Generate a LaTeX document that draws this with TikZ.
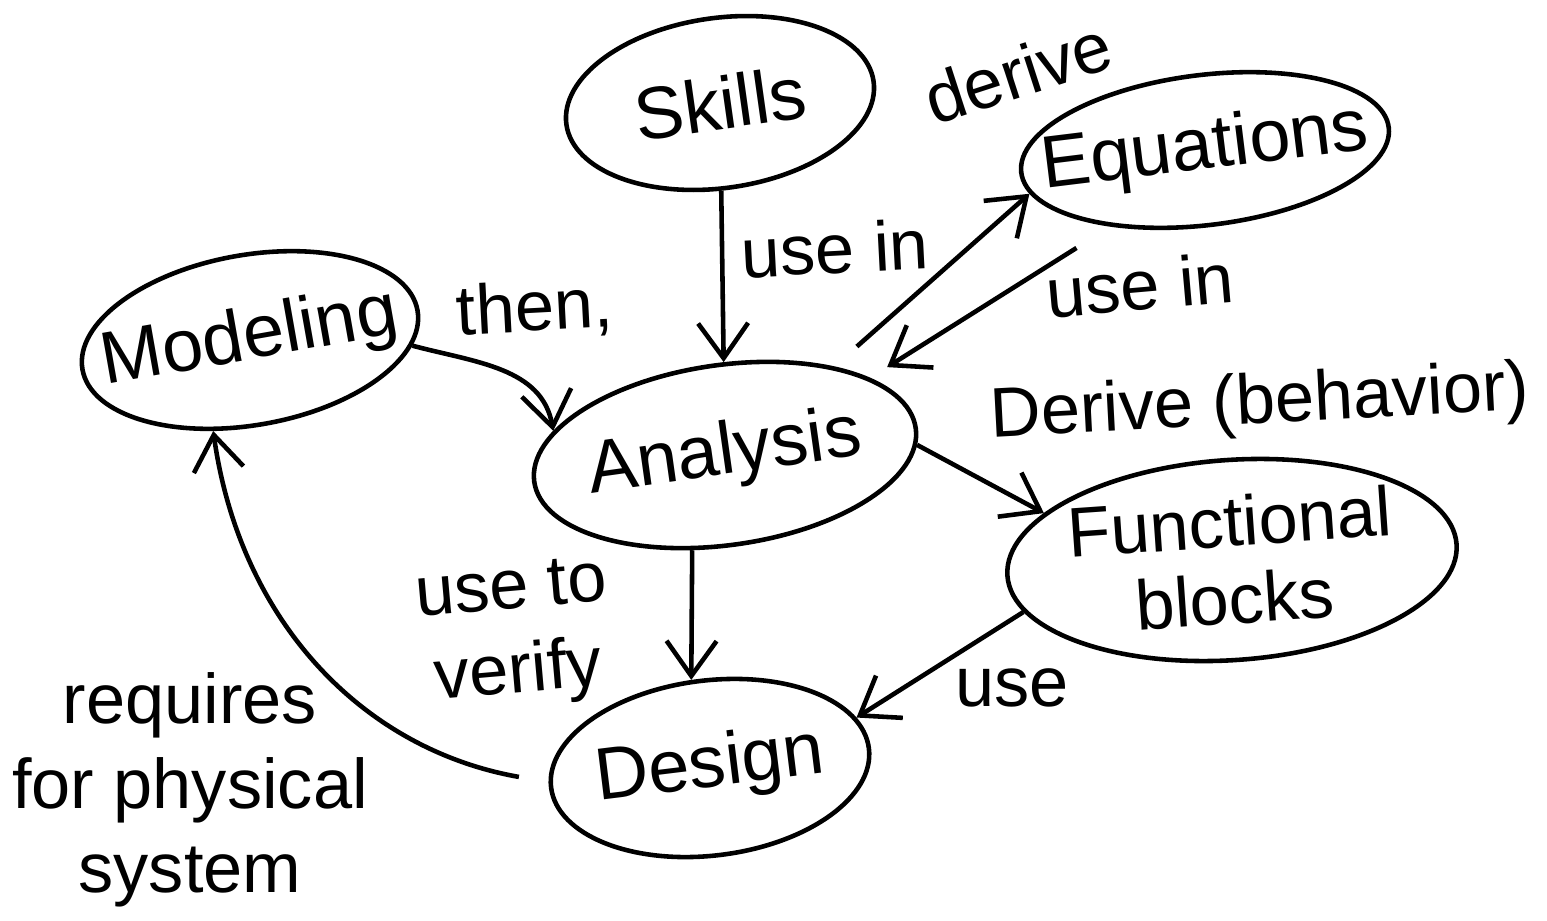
\documentclass[tikz,border=0pt]{standalone}
\usepackage{fontspec}
\setmainfont{Liberation Sans}
\usetikzlibrary{shapes.geometric,arrows.meta}
\begin{document}
\begin{tikzpicture}[x=0.01cm,y=0.01cm,
  bub/.style={draw,ellipse,line width=1.3pt,inner xsep=-5mm,inner ysep=-3mm,font=\fontsize{21}{25}\selectfont},
  lab/.style={font=\fontsize{20}{24}\selectfont,inner sep=1pt},
  arr/.style={line width=1.3pt,-{Straight Barb[length=3.5mm,width=5mm]}}]
\useasboundingbox[fill=white] (0,0) rectangle (1547,-921);
% nodes
\node[bub,minimum width=3.1cm,minimum height=1.7cm,rotate=8] (skills) at (720,-103) {Skills};
\node[bub,minimum width=3.7cm,minimum height=1.5cm,rotate=7] (eq) at (1205,-150) {Equations};
\node[bub,minimum width=3.4cm,minimum height=1.7cm,rotate=10] (model) at (250,-340) {Modeling};
\node[bub,minimum width=3.85cm,minimum height=1.8cm,rotate=8] (anal) at (725,-455) {Analysis};
\node[bub,minimum width=4.5cm,minimum height=2.0cm,rotate=4,align=center,font=\fontsize{20}{22}\selectfont] (func) at (1232,-560) {Functional\\blocks};
\node[bub,minimum width=3.2cm,minimum height=1.75cm,rotate=7] (design) at (710,-768) {Design};
% connectors
\draw[arr] (skills) -- (anal);
\draw[arr,shorten <=3mm] (anal.31) -- (eq.187);
\draw[arr,shorten <=4mm,shorten >=2mm] (eq.212) -- (anal.20);
\draw[arr] (model.-12) to[out=-15,in=100] (anal.164.5);
\draw[arr] (anal.-5) -- (func.162);
\draw[arr] (anal.243) -- (design.95);
\draw[arr] (func.190) -- (design.12);
\draw[arr,shorten <=3mm] (design.178) to[out=170,in=-82] (model.238);
% labels
\node[lab,rotate=3] (l1) at (835,-248) {use in};
\node[lab,rotate=18] (l2) at (1018,-72) {derive};
\node[lab,rotate=5] (l3) at (1140,-285) {use in};
\node[lab,rotate=3] (l4) at (535,-310) {then,};
\node[lab,rotate=3] (l5) at (1260,-405) {Derive (behavior)};
\node[lab,rotate=5,align=center] (l6) at (515,-635) {use to\\verify};
\node[lab] (l7) at (1012,-688) {use};
\node[lab,align=center] (l8) at (190,-790) {requires\\for physical\\system};
\end{tikzpicture}
\end{document}
